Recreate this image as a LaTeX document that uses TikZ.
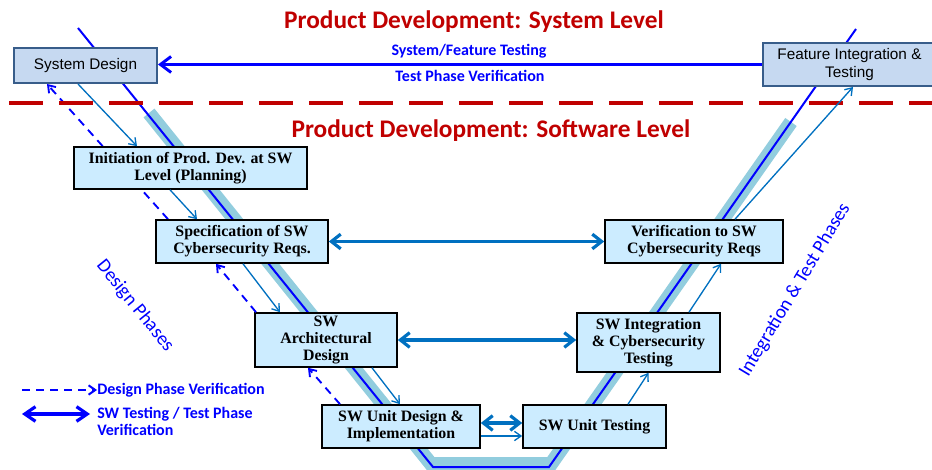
\documentclass[tikz,border=0pt]{standalone}
\usepackage{fontspec}
\setmainfont{Liberation Serif}
\newfontfamily\calibri{Carlito}
\newfontfamily\arial{Liberation Sans}
\usetikzlibrary{arrows.meta,calc,backgrounds}

\definecolor{titlered}{RGB}{192,0,0}
\definecolor{vblue}{RGB}{0,0,255}
\definecolor{swblue}{RGB}{0,112,192}
\definecolor{bandblue}{RGB}{146,205,222}
\definecolor{sysfill}{RGB}{198,217,241}
\definecolor{sysline}{RGB}{56,93,138}
\definecolor{swfill}{RGB}{204,236,255}

\tikzset{
  sysbox/.style={draw=sysline, line width=1.5pt, fill=sysfill, inner sep=0pt, align=center, font=\arial\fontsize{11.5}{13}\selectfont},
  swbox/.style={draw=black, line width=1.2pt, fill=swfill, inner sep=0pt, align=center, font=\bfseries\fontsize{11.9}{12.75}\selectfont},
  leveltitle/.style={text=titlered, inner sep=0pt, font=\calibri\bfseries\fontsize{19}{21}\selectfont},
  bluelbl/.style={text=vblue, inner sep=0pt, align=left, font=\calibri\bfseries\fontsize{12}{13}\selectfont},
  phaselbl/.style={text=vblue, inner sep=0pt, font=\calibri\fontsize{14.5}{16}\selectfont},
  flow/.style={draw=swblue, line width=1pt, -{Straight Barb[length=5pt,width=7pt]}},
  dashverif/.style={draw=vblue, line width=1.4pt, dash pattern=on 6pt off 4.5pt, -{Straight Barb[length=5pt,width=7pt]}},
  testarr/.style={draw=swblue, line width=2.4pt, {Straight Barb[length=7pt,width=11pt]}-{Straight Barb[length=7pt,width=11pt]}}
}

\begin{document}
\begin{tikzpicture}[x=0.75pt,y=0.75pt,yscale=-1,xscale=1]
\useasboundingbox (0,0) rectangle (932,470);

%Shape: V band
\draw [bandblue, line width=10.5pt] (149,113) -- (431,464) -- (551,464) -- (791,122) ;
%Shape: V line
\draw [vblue, line width=1.5pt] (78,28) -- (433,467) -- (549,467) -- (856,29) ;
%Straight Lines: level border
\draw [titlered, line width=3pt, dash pattern=on 25.5pt off 12pt] (9,103) -- (932,103) ;

% Text Node
\node (syslevel) [leveltitle] at (474,22) {Product Development: System Level};
% Text Node
\node (swlevel) [leveltitle] at (491,131) {Product Development: Software Level};

%Shape: Rectangle
\node (sysdesign) [sysbox, minimum width=107.25pt, minimum height=26.25pt] at (85.5,65.5) {System Design};
%Shape: Rectangle
\node (featint) [sysbox, minimum width=129.75pt, minimum height=32.25pt] at (849.5,64.5) {Feature Integration \&\\Testing};

%Shape: Rectangle
\node (initiation) [swbox, minimum width=174.75pt, minimum height=31.5pt] at (190.5,168) {Initiation of Prod. Dev. at SW\\Level (Planning)};
%Shape: Rectangle
\node (specreq) [swbox, minimum width=129pt, minimum height=32.25pt] at (242,241.5) {Specification of SW\\Cybersecurity Reqs.};
%Shape: Rectangle
\node (archdes) [swbox, minimum width=106.5pt, minimum height=40.5pt] at (326,340) {SW\\Architectural\\Design};
%Shape: Rectangle
\node (unitdes) [swbox, minimum width=118.5pt, minimum height=32.25pt] at (401,426.5) {SW Unit Design \&\\Implementation};
%Shape: Rectangle
\node (unittest) [swbox, minimum width=107.25pt, minimum height=32.25pt] at (594.5,426.5) {SW Unit Testing};
%Shape: Rectangle
\node (integtest) [swbox, minimum width=107.25pt, minimum height=44.25pt] at (648.5,342.5) {SW Integration\\\& Cybersecurity\\Testing};
%Shape: Rectangle
\node (verifreq) [swbox, minimum width=133.5pt, minimum height=32.25pt] at (694,241.5) {Verification to SW\\Cybersecurity Reqs};

%Straight Lines: system level testing
\draw [vblue, line width=2.2pt, -{Straight Barb[length=8pt,width=12pt]}] (featint.west) -- (featint.west -| sysdesign.east) ;
% Text Node
\node (systest) [bluelbl] at (469,51) {System/Feature Testing};
% Text Node
\node (sysverif) [bluelbl] at (470,76) {Test Phase Verification};

%Straight Lines: design flow
\draw [flow] ($(sysdesign.south)+(-7.5,0)$) -- ($(initiation.north)+(-53.5,0)$) ;
\draw [flow] ($(initiation.south)+(-20.5,0)$) -- ($(specreq.north)+(-45,0)$) ;
\draw [flow] ($(specreq.south)+(1,0)$) -- ($(archdes.north)+(-46,0)$) ;
\draw [flow] ($(archdes.south)+(46,0)$) -- ($(unitdes.north)+(-1,0)$) ;
\draw [flow] ($(unitdes.east)+(0,9.5)$) -- ($(unittest.west)+(0,9.5)$) ;
\draw [flow] ($(unittest.north)+(33.5,0)$) -- (integtest.south) ;
\draw [flow] ($(integtest.north)+(40.5,0)$) -- ($(verifreq.south)+(27,0)$) ;
\draw [flow] ($(verifreq.north)+(41,0)$) -- ($(featint.south)+(3.5,0)$) ;

%Straight Lines: design phase verification
\begin{scope}[on background layer]
\draw [dashverif] ($(specreq.north)+(-74,0)$) -- ($(sysdesign.south)+(-38.5,0)$) ;
\end{scope}
\draw [dashverif] ($(archdes.north)+(-70,0)$) -- ($(specreq.south)+(-26,0)$) ;
\draw [dashverif] ($(unitdes.north)+(-61,0)$) -- ($(archdes.south)+(-18,0)$) ;

%Straight Lines: sw testing
\draw [testarr] (specreq.east) -- (verifreq.west) ;
\draw [testarr] (archdes.east) -- (archdes.east -| integtest.west) ;
\draw [testarr] ($(unitdes.east)+(0,-3.5)$) -- ($(unittest.west)+(0,-3.5)$) ;

% Text Node
\node (desphases) [phaselbl, rotate=-51] at (135,306) {Design Phases};
% Text Node
\node (intphases) [phaselbl, rotate=59] at (795,290) {Integration \& Test Phases};

%Legend
\coordinate (legdash) at (22,390);
\node (legdashtxt) [bluelbl, anchor=west] at (97,390) {Design Phase Verification};
\draw [dashverif, line width=1.5pt] (legdash) -- (legdashtxt.west) ;
\coordinate (legtestA) at (22,414);
\coordinate (legtestB) at (90,414);
\draw [vblue, line width=2.4pt, {Straight Barb[length=8pt,width=11pt]}-{Straight Barb[length=8pt,width=11pt]}] (legtestA) -- (legtestB) ;
\node (legtesttxt) [bluelbl, anchor=north west] at (97,407) {SW Testing / Test Phase\\Verification};

\end{tikzpicture}
\end{document}
